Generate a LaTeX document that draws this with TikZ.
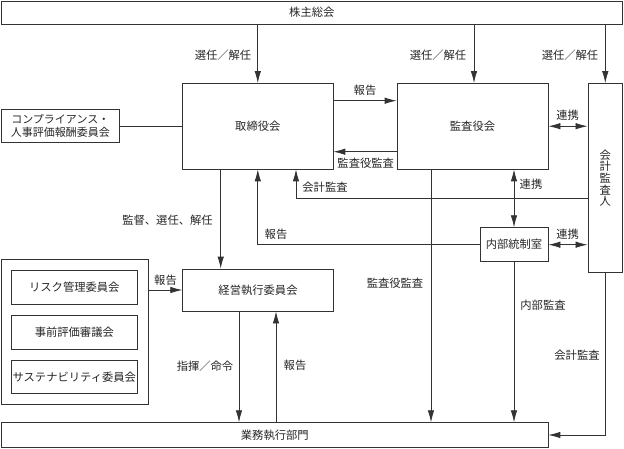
\documentclass[tikz,border=0pt]{standalone}
\usepackage{fontspec}
\setmainfont{Noto Sans CJK JP}
\usetikzlibrary{arrows.meta,calc}
\begin{document}
\begin{tikzpicture}[x=1pt,y=-1pt,
  box/.style={draw=black!80,line width=0.8pt,inner sep=0pt,align=center,font=\fontsize{11.3}{12}\selectfont,text=black!85},
  lbl/.style={inner sep=0pt,font=\fontsize{11.3}{12}\selectfont,text=black!85},
  con/.style={draw=black!80,line width=0.8pt},
  arr/.style={con,-{Latex[length=12pt,width=6.5pt]}},
  darr/.style={con,{Latex[length=12pt,width=6.5pt]}-{Latex[length=12pt,width=6.5pt]}},
]
\useasboundingbox (0,0) rectangle (624,448);

% boxes
\node[box,minimum width=621.7pt,minimum height=23.5pt] (gm) at (311.8,12.7) {株主総会};
\node[box,minimum width=150.3pt,minimum height=85.5pt] (board) at (257.8,126.2) {取締役会};
\node[box,minimum width=151pt,minimum height=85.5pt] (kansa) at (472.5,126.2) {監査役会};
\node[box,minimum width=34.7pt,minimum height=189.2pt,font=\fontsize{11.3}{11.6}\selectfont] (auditor) at (605.3,178.1) {会\\計\\監\\査\\人};
\node[box,minimum width=117.3pt,minimum height=33.4pt,font=\fontsize{11}{13}\selectfont] (comp) at (60.3,126) {コンプライアンス・\\人事評価報酬委員会};
\node[box,minimum width=68pt,minimum height=34pt] (internal) at (514,244.7) {内部統制室};
\node[box,minimum width=150.6pt,minimum height=42pt] (exec) at (258,290) {経営執行委員会};
\node[box,minimum width=147pt,minimum height=144.7pt] (group) at (74.5,331.7) {};
\node[box,minimum width=126pt,minimum height=33.6pt] (risk) at (74.3,287.5) {リスク管理委員会};
\node[box,minimum width=126pt,minimum height=33.6pt] (pre) at (74.3,332.2) {事前評価審議会};
\node[box,minimum width=126pt,minimum height=33.6pt] (sus) at (74.3,377) {サステナビリティ委員会};
\node[box,minimum width=546.3pt,minimum height=24.6pt] (ops) at (274.8,435) {業務執行部門};

% connectors
\draw[arr] (gm.south -| board.north) -- (board.north);
\draw[arr] ([xshift=1.5pt]kansa.north |- gm.south) -- ([xshift=1.5pt]kansa.north);
\draw[arr] (gm.south -| auditor.north) -- (auditor.north);
\draw[arr] ([yshift=25.5pt]board.east) -- ([yshift=25.5pt]kansa.west);
\draw[arr] ([yshift=-25.5pt]kansa.west) -- ([yshift=-25.5pt]board.east);
\draw[darr] (kansa.east) -- (kansa.east -| auditor.west);
\draw[darr] (internal.north |- kansa.south) -- (internal.north);
\draw[darr] (internal.east) -- (internal.east -| auditor.west);
\draw[arr] ([yshift=-20.2pt]auditor.west) -| ([xshift=38.2pt]board.south);
\draw[arr] (internal.west) -| (board.south);
\draw[arr] ([xshift=-37.1pt]board.south) -- ([xshift=-37.1pt]board.south |- exec.north);
\draw[con] (comp.east) -- (comp.east -| board.west);
\draw[arr] (group.east |- exec.west) -- (exec.west);
\draw[arr] ([xshift=-19pt]exec.south) -- ([xshift=-19pt]exec.south |- ops.north);
\draw[arr] ([xshift=18pt]exec.south |- ops.north) -- ([xshift=18pt]exec.south);
\draw[arr] ([xshift=-41.5pt]kansa.south) -- ([xshift=-41.5pt]kansa.south |- ops.north);
\draw[arr] (internal.south) -- (internal.south |- ops.north);
\draw[arr] (auditor.south) |- (ops.east);

% labels
\node[lbl] (l1) at (223,55) {選任／解任};
\node[lbl] (l2) at (438,55) {選任／解任};
\node[lbl] (l3) at (570,55) {選任／解任};
\node[lbl] (l4) at (365,90) {報告};
\node[lbl] (l5) at (365.7,163.3) {監査役監査};
\node[lbl] (l6) at (567.7,115.3) {連携};
\node[lbl] (l7) at (325,187) {会計監査};
\node[lbl] (l8) at (531,184) {連携};
\node[lbl] (l9) at (567.7,234) {連携};
\node[lbl] (l10) at (276,234) {報告};
\node[lbl] (l11) at (167.5,220) {監督、選任、解任};
\node[lbl] (l12) at (165.5,280.7) {報告};
\node[lbl] (l13) at (205,365.7) {指揮／命令};
\node[lbl] (l14) at (295,365.7) {報告};
\node[lbl] (l15) at (395,283.3) {監査役監査};
\node[lbl] (l16) at (543,305) {内部監査};
\node[lbl] (l17) at (577,355) {会計監査};
\end{tikzpicture}
\end{document}
